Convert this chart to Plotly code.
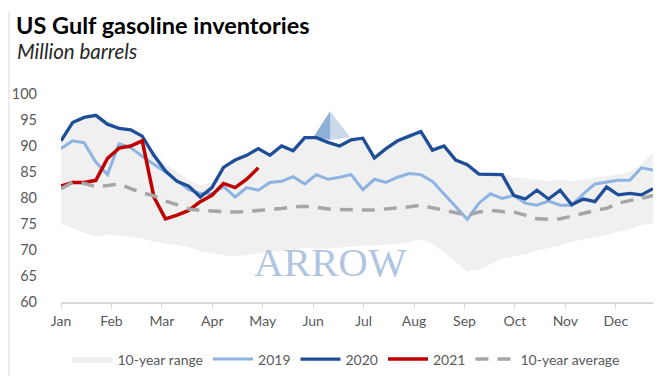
import plotly.graph_objects as go

# ---------------- data (weekly, 52 weeks) ----------------
weeks = list(range(52))
months = ["Jan", "Feb", "Mar", "Apr", "May", "Jun", "Jul", "Aug", "Sep", "Oct", "Nov", "Dec"]

range_low = [75.0, 74.2, 73.2, 72.6, 73.0, 72.8, 72.5, 72.2, 71.6, 71.2, 70.9, 70.6, 69.8,
             69.4, 69.0, 68.8, 69.0, 69.4, 69.6, 69.8, 70.0, 70.4, 70.2, 70.3, 70.5, 70.6,
             70.8, 70.9, 71.0, 71.1, 71.5, 72.0, 71.2, 69.5, 67.8, 65.8, 66.2, 67.2, 68.4,
             68.8, 69.2, 69.8, 70.4, 70.8, 71.6, 72.0, 72.4, 72.9, 73.5, 74.0, 74.8, 75.2]
range_high = [91.5, 95.0, 95.8, 96.0, 94.5, 93.6, 93.4, 92.2, 89.0, 86.5, 85.0, 83.5, 82.5,
              83.0, 86.2, 87.6, 88.5, 89.8, 88.6, 90.3, 89.5, 91.8, 91.8, 91.0, 90.4, 91.6,
              91.8, 88.0, 89.8, 91.3, 92.2, 93.0, 89.5, 90.3, 87.6, 86.7, 85.0, 84.8, 84.8,
              84.0, 83.8, 83.5, 83.2, 83.5, 83.2, 83.5, 84.0, 84.2, 84.5, 85.0, 86.5, 88.8]
y2019 = [89.5, 91.0, 90.6, 86.9, 84.5, 90.4, 89.7, 88.0, 86.5, 85.0, 83.3, 81.6, 80.9,
         80.8, 82.2, 80.2, 82.0, 81.5, 83.0, 83.2, 84.1, 82.7, 84.5, 83.6, 84.0, 84.5,
         81.6, 83.6, 83.0, 84.0, 84.7, 84.5, 83.2, 80.8, 78.4, 75.9, 79.0, 80.8, 79.9,
         80.5, 79.0, 78.6, 79.4, 78.6, 78.6, 80.8, 82.7, 83.0, 83.4, 83.4, 85.8, 85.4]
y2020 = [91.0, 94.5, 95.5, 95.9, 94.2, 93.4, 93.1, 91.9, 88.2, 85.2, 83.2, 82.3, 80.2,
         82.0, 85.9, 87.3, 88.2, 89.5, 88.2, 90.0, 89.1, 91.6, 91.6, 90.7, 90.0, 91.2,
         91.5, 87.7, 89.5, 91.0, 91.9, 92.8, 89.2, 90.0, 87.3, 86.4, 84.6, 84.5, 84.5,
         80.5, 79.8, 81.5, 79.8, 81.5, 78.7, 79.8, 79.3, 82.1, 80.6, 80.9, 80.6, 81.8]
y2021 = [82.3, 83.0, 83.0, 83.4, 87.6, 89.6, 90.0, 91.0, 80.2, 76.0, 76.7, 77.6, 79.3,
         80.5, 82.8, 82.0, 83.6, 85.8]
avg10 = [81.8, 83.0, 82.8, 82.2, 82.4, 82.7, 81.8, 81.0, 80.4, 79.4, 78.7, 77.9, 77.6,
         77.5, 77.5, 77.3, 77.4, 77.6, 77.7, 78.0, 78.3, 78.4, 78.2, 77.9, 77.8, 77.7,
         77.7, 77.7, 77.9, 78.0, 78.3, 78.6, 78.1, 77.6, 77.1, 76.7, 77.3, 77.6, 77.4,
         77.3, 76.7, 76.0, 75.9, 76.0, 76.5, 77.1, 77.6, 78.0, 79.0, 79.5, 79.9, 80.5]

# ---------------- layout helpers (pixel -> paper) ----------------
W, H = 670, 380
L, R, T, B = 53, 25, 86, 77
PW, PH = W - L - R, H - T - B


def xp(px):
    return (px - L) / PW


def yp(py):
    return (H - B - py) / PH


FONT = "Lato"
TXT = "#595959"

fig = go.Figure()

fig.add_trace(go.Scatter(x=weeks, y=range_low, mode="lines", line=dict(width=0, color="#efefef"),
                         showlegend=False, hoverinfo="skip"))
fig.add_trace(go.Scatter(x=weeks, y=range_high, mode="lines", fill="tonexty", fillcolor="#f0f0f0",
                         line=dict(width=0, color="#f0f0f0"), name="10-year range"))
fig.add_trace(go.Scatter(x=weeks, y=y2019, mode="lines", line=dict(color="#8db3e2", width=3),
                         name="2019"))
fig.add_trace(go.Scatter(x=weeks, y=y2020, mode="lines", line=dict(color="#1f4e99", width=3.3),
                         name="2020"))
fig.add_trace(go.Scatter(x=weeks[:len(y2021)], y=y2021, mode="lines",
                         line=dict(color="#c00000", width=3.5), name="2021"))
fig.add_trace(go.Scatter(x=weeks, y=avg10, mode="lines",
                         line=dict(color="#a6a6a6", width=3.5, dash="13px,9px"),
                         name="10-year average"))

tickvals = [m * 52.14 / 12 for m in range(12)]

shapes = [
    # watermark pyramid
    dict(type="path", xref="paper", yref="paper", layer="below",
         path=f"M{xp(322)},{yp(104)} L{xp(306)},{yp(130)} L{xp(322)},{yp(134)} Z",
         fillcolor="#8fb0d6", line=dict(width=0)),
    dict(type="path", xref="paper", yref="paper", layer="below",
         path=f"M{xp(322)},{yp(104)} L{xp(322)},{yp(134)} L{xp(342)},{yp(131)} Z",
         fillcolor="#cbd7eb", line=dict(width=0)),
    # chart borders
    dict(type="line", xref="paper", yref="paper", x0=xp(1), x1=xp(1), y0=yp(0), y1=yp(380),
         line=dict(color="#d9d9d9", width=1)),
    dict(type="line", xref="paper", yref="paper", x0=xp(665), x1=xp(665), y0=yp(0), y1=yp(380),
         line=dict(color="#d9d9d9", width=1)),
]

annotations = [
    dict(text="<b>US Gulf gasoline inventories</b>", xref="paper", yref="paper",
         x=xp(6), y=yp(14), xanchor="left", yanchor="middle", showarrow=False,
         font=dict(family=FONT, size=23.5, color="#000000")),
    dict(text="<i>Million barrels</i>", xref="paper", yref="paper",
         x=xp(7), y=yp(41), xanchor="left", yanchor="middle", showarrow=False,
         font=dict(family=FONT, size=20.5, color="#262626")),
    dict(text="ARROW", xref="paper", yref="paper", x=xp(322), y=yp(261),
         xanchor="center", yanchor="middle", showarrow=False,
         font=dict(family="Liberation Serif", size=41, color="rgba(140,172,212,0.7)")),
]

fig.update_layout(
    width=W, height=H,
    margin=dict(l=L, r=R, t=T, b=B),
    paper_bgcolor="white", plot_bgcolor="rgba(0,0,0,0)",
    font=dict(family=FONT, size=14, color=TXT),
    showlegend=True,
    legend=dict(orientation="h", x=xp(338), y=yp(363), xanchor="center", yanchor="middle",
                traceorder="normal",
                font=dict(family=FONT, size=14, color=TXT), itemwidth=40,
                tracegroupgap=0, bgcolor="rgba(0,0,0,0)"),
    shapes=shapes,
    annotations=annotations,
    xaxis=dict(range=[0, 51], tickmode="array", tickvals=tickvals, ticktext=months,
               showgrid=False, zeroline=False, showline=True, linecolor="#d9d9d9", linewidth=1.5,
               ticks="outside", ticklen=5, tickcolor="#d9d9d9", tickwidth=1, automargin=False,
               tickfont=dict(family=FONT, size=14, color=TXT), fixedrange=True),
    yaxis=dict(range=[60, 100], tickmode="array", tickvals=list(range(60, 101, 5)),
               showgrid=False, zeroline=False, showline=False, ticks="", automargin=False,
               ticklabelstandoff=23,
               tickfont=dict(family=FONT, size=14.5, color=TXT), fixedrange=True),
)

fig.write_html("out.html")
